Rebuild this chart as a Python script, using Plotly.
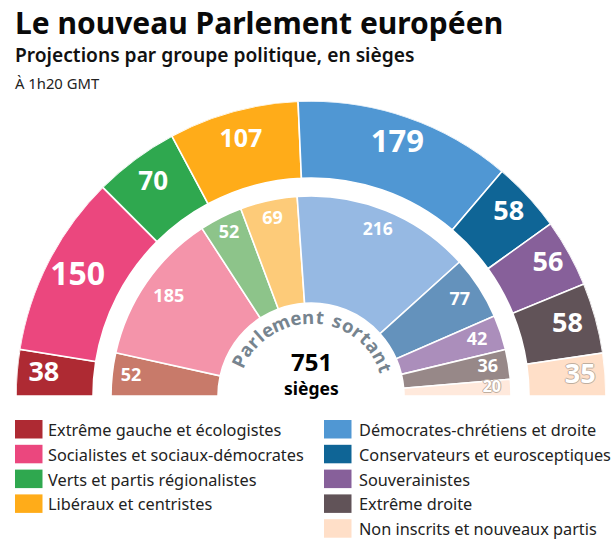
import math
import plotly.graph_objects as go

W, H = 614, 550
FONT = "Noto Sans"

groups = ["Extrême gauche et écologistes", "Socialistes et sociaux-démocrates",
          "Verts et partis régionalistes", "Libéraux et centristes",
          "Démocrates-chrétiens et droite", "Conservateurs et eurosceptiques",
          "Souverainistes", "Extrême droite", "Non inscrits et nouveaux partis"]
new_seats = [38, 150, 70, 107, 179, 58, 56, 58, 35]
old_seats = [52, 185, 52, 69, 216, 77, 42, 36, 20]
new_colors = ["#AE2A33", "#EB477E", "#2FA84F", "#FFAC19", "#5097D3",
              "#0F6596", "#87609A", "#615358", "#FFDFC8"]
old_colors = ["#C87A6A", "#F494AA", "#8DC48A", "#FDCB79", "#96B9E3",
              "#6492BC", "#AB8EBB", "#978888", "#FFE9DC"]
new_sizes = [27, 32, 26, 25, 31, 27, 27, 27, 27]
old_sizes = [18, 18, 18, 18, 17.5, 18, 18, 18, 16]
new_label_r = [268, 262, 265, 265, 266, 269, 271, 266, 270]
old_label_r = [181, 173, 182, 181, 178, 177, 175, 179, 181]

CX, CY, R = 311, 396, 295
PALE = 8  # index of the pale group


def sectors(values):
    total = sum(values)
    mids, widths, run = [], [], 0
    for v in values:
        w = v * 180 / total
        mids.append(180 - (run + w / 2))
        widths.append(w)
        run += w
    return mids, widths


def ring(values, colors, r0, r1):
    mids, widths = sectors(values)
    return go.Barpolar(theta=mids, width=widths, r=[r1 - r0] * len(values), base=[r0] * len(values),
                       marker=dict(color=colors, line=dict(color="white", width=1.6)),
                       hoverinfo="skip", showlegend=False)


def labels(values, sizes, radii, pale):
    mids, _ = sectors(values)
    idx = [i for i in range(len(values)) if (i == PALE) == pale]
    font = dict(family=FONT, weight=700, color="white", size=[sizes[i] for i in idx])
    if pale:
        c = "#bfae9f"
        font["shadow"] = f"1px 0 0 {c}, -1px 0 0 {c}, 0 1px 0 {c}, 0 -1px 0 {c}"
    return go.Scatterpolar(theta=[mids[i] for i in idx], r=[radii[i] for i in idx],
                           text=[str(values[i]) for i in idx], mode="text", textposition="middle center",
                           textfont=font, cliponaxis=False, hoverinfo="skip", showlegend=False)


fig = go.Figure()
fig.add_trace(ring(new_seats, new_colors, 218, R))
fig.add_trace(ring(old_seats, old_colors, 93, 200))
fig.add_trace(labels(new_seats, new_sizes, new_label_r, False))
fig.add_trace(labels(new_seats, new_sizes, new_label_r, True))
fig.add_trace(labels(old_seats, old_sizes, old_label_r, False))
fig.add_trace(labels(old_seats, old_sizes, old_label_r, True))

annotations, shapes = [], []


def text(x, y, s, size, weight=400, color="#111111", anchor="left", angle=0):
    annotations.append(dict(x=x / W, y=1 - y / H, xref="paper", yref="paper", text=s, showarrow=False,
                            xanchor=anchor, yanchor="middle", textangle=angle, borderpad=0, borderwidth=0,
                            font=dict(family=FONT, size=size, weight=weight, color=color)))


text(15, 22, "Le nouveau Parlement européen", 30, 700, "#0a0a0a")
text(15, 55, "Projections par groupe politique, en sièges", 19.2, 600, "#111111")
text(15, 83, "À 1h20 GMT", 14.8, 400, "#222222")
text(CX, 361, "751", 24, 700, "#000000", "center")
text(CX, 388, "sièges", 17.5, 700, "#000000", "center")

# Curved label
curve = "Parlement sortant"
adv = dict(P=12, a=11.5, r=9, l=7, e=12, m=17, n=13, t=9, s=10.5, o=12.5)
adv[" "] = 7
tot = sum(adv[c] for c in curve)
span = 141
run = 0
for c in curve:
    frac = (run + adv[c] / 2) / tot
    ang = 158.5 - span * frac  # math angle, 180 = left
    run += adv[c]
    if c == " ":
        continue
    x = CX + 80 * math.cos(math.radians(ang))
    y = CY - 80 * math.sin(math.radians(ang))
    text(x, y, c, 18.5, 700, "#76848F", "center", angle=90 - ang)

# Legend
for i, (g, col) in enumerate(zip(groups, new_colors)):
    col2 = i >= 4
    row = i - 4 if col2 else i
    x0 = 324 if col2 else 15
    tx = 359 if col2 else 48
    y0 = 420 + row * 24.8
    shapes.append(dict(type="rect", xref="paper", yref="paper", x0=x0 / W, x1=(x0 + 27.5) / W,
                       y0=1 - y0 / H, y1=1 - (y0 + 18.5) / H, fillcolor=col, line=dict(width=0)))
    text(tx, y0 + 10, g, 16.3, 400, "#222222")

fig.update_layout(
    width=W, height=H, margin=dict(l=0, r=0, t=0, b=0), paper_bgcolor="white", plot_bgcolor="white",
    polar=dict(domain=dict(x=[(CX - R) / W, (CX + R) / W], y=[1 - CY / H, 1 - (CY - R) / H]),
               sector=[0, 180], bgcolor="white",
               radialaxis=dict(visible=False, range=[0, R]),
               angularaxis=dict(visible=False, direction="counterclockwise", rotation=0, thetaunit="degrees"),
               barmode="overlay"),
    annotations=annotations, shapes=shapes, showlegend=False)

fig.write_html("out.html", config=dict(displayModeBar=False),
               post_script="document.body.style.margin='0';document.documentElement.style.overflow='hidden';")
